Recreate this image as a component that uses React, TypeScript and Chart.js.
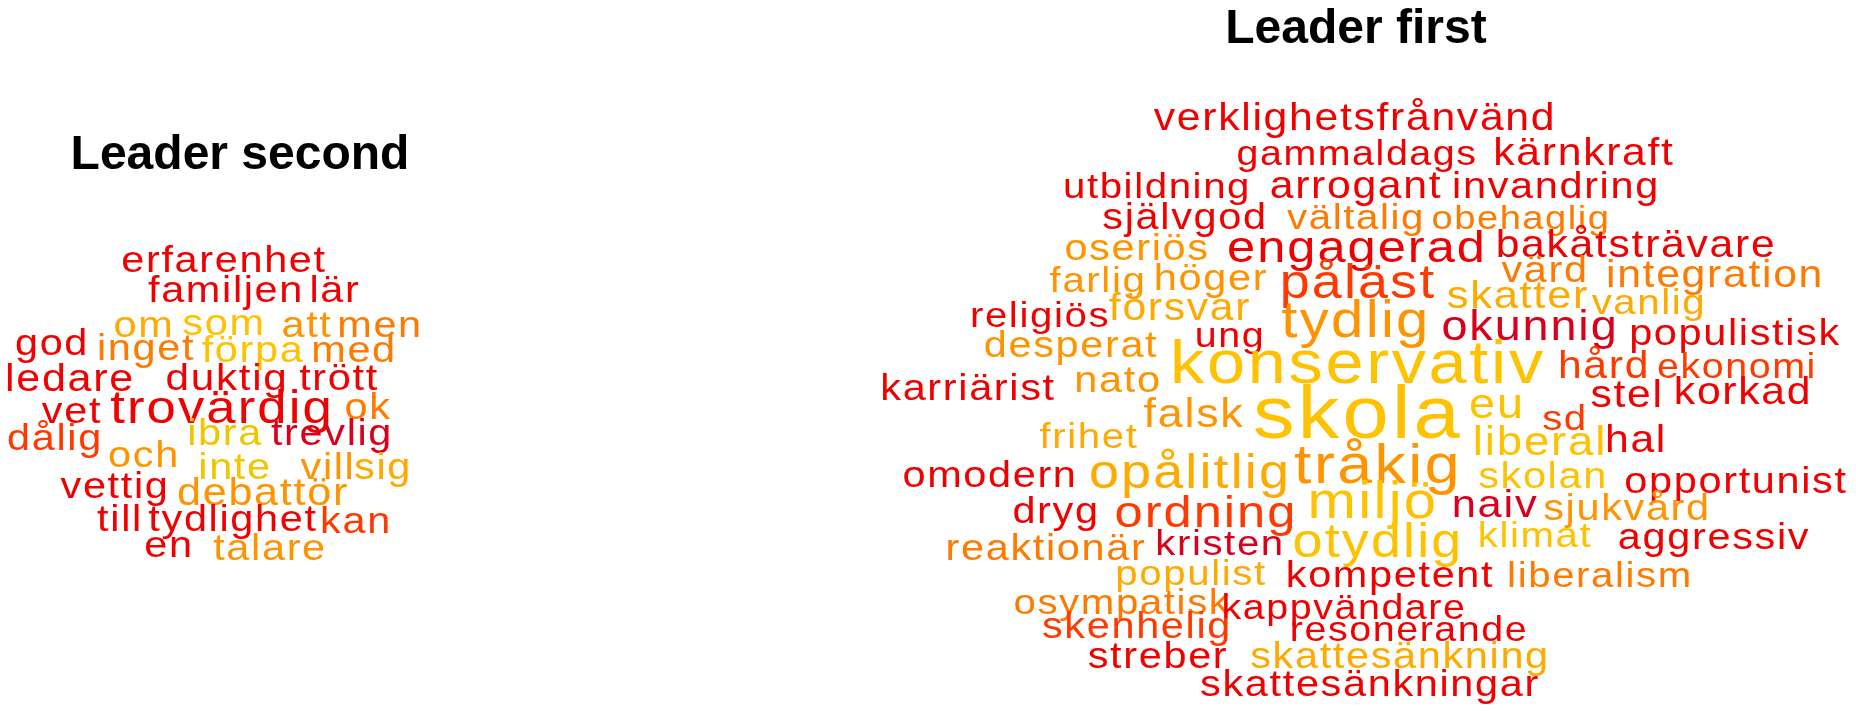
import { useEffect, useRef } from 'react';
import { Chart, registerables } from 'chart.js';

Chart.register(...registerables);

// Titles of the two clouds
const titles = ['Leader second', 'Leader first'];
const titleX = [240, 1356];
const titleY = [169, 43];

// Cloud "Leader second"
const leftWords = [
  'erfarenhet', 'familjen', 'lär', 'om', 'som', 'att', 'men', 'god', 'inget', 'förpa', 'med',
  'ledare', 'duktig', 'trött', 'trovärdig', 'ok', 'vet', 'dålig', 'och', 'ibra', 'trevlig',
  'inte', 'vill', 'sig', 'vettig', 'debattör', 'till', 'tydlighet', 'kan', 'en', 'talare',
];
const leftX = [
  224, 226, 335, 144, 224, 307, 380, 52, 146, 253, 354,
  70, 227, 339, 222, 368, 72, 55, 144, 225, 332,
  235, 328, 383, 115, 263, 120, 233, 356, 169, 270,
];
const leftY = [
  272, 302, 302, 337, 335, 337, 337, 355, 360, 362, 362,
  391, 390, 390, 423, 419, 423, 450, 467, 445, 445,
  479, 479, 479, 498, 505, 531, 531, 533, 557, 560,
];
const leftWeight = [
  1, 1, 1, 1, 1, 1, 1, 1, 1, 1, 1,
  1.04, 1.02, 1, 1.27, 1, 1, 1, 1, 1, 1,
  1, 1, 1, 1, 1.04, 1, 1, 1, 1, 1,
];
const leftTone = [
  0, 0, 0, 5, 6, 4, 3, 0, 3, 6, 3,
  0, 0, 0, 0, 3, 0, 2, 4, 7, 1,
  7, 4, 5, 0, 4, 0, 0, 2, 0, 4,
];

// Cloud "Leader first"
const rightWords = [
  'verklighetsfrånvänd', 'gammaldags', 'kärnkraft', 'utbildning', 'arrogant', 'invandring',
  'självgod', 'vältalig', 'obehaglig', 'oseriös', 'engagerad', 'bakåtsträvare',
  'farlig', 'höger', 'påläst', 'värd', 'integration', 'skatter', 'vanlig', 'försvar',
  'tydlig', 'religiös', 'okunnig', 'populistisk', 'ung', 'desperat', 'konservativ',
  'hård', 'ekonomi', 'karriärist', 'nato', 'stel', 'korkad', 'falsk', 'skola', 'eu', 'sd',
  'frihet', 'liberal', 'hal', 'tråkig', 'omodern', 'opålitlig', 'skolan', 'opportunist',
  'dryg', 'ordning', 'miljö', 'naiv', 'sjukvård', 'reaktionär', 'kristen', 'otydlig',
  'klimat', 'aggressiv', 'populist', 'kompetent', 'liberalism', 'osympatisk', 'kappvändare',
  'skenhelig', 'resonerande', 'streber', 'skattesänkning', 'skattesänkningar',
];
const rightX = [
  1355, 1357, 1584, 1157, 1356, 1556,
  1185, 1356, 1521, 1137, 1357, 1636,
  1098, 1211, 1358, 1545, 1715, 1518, 1649, 1180,
  1356, 1040, 1530, 1735, 1230, 1071, 1358,
  1604, 1737, 968, 1118, 1627, 1743, 1194, 1358, 1497, 1565,
  1089, 1540, 1636, 1378, 990, 1190, 1543, 1736,
  1056, 1206, 1373, 1495, 1627, 1046, 1220, 1378,
  1535, 1714, 1191, 1390, 1600, 1122, 1344,
  1137, 1409, 1158, 1400, 1370,
];
const rightY = [
  130, 165, 165, 198, 198, 198,
  229, 229, 229, 260, 262, 257,
  292, 290, 298, 282, 287, 308, 314, 320,
  337, 327, 340, 345, 347, 357, 383,
  378, 378, 400, 392, 407, 404, 427, 438, 418, 430,
  448, 455, 452, 483, 487, 488, 488, 493,
  523, 527, 518, 517, 520, 560, 555, 557,
  547, 549, 585, 587, 587, 614, 619,
  638, 641, 668, 668, 696,
];
const rightWeight = [
  1.03, 0.95, 1.03, 0.97, 1.03, 1,
  1, 0.97, 0.92, 1, 1.22, 1.03,
  0.97, 1, 1.3, 1, 1.03, 1.05, 0.97, 1.03,
  1.4, 0.97, 1.13, 1, 0.95, 1, 1.65,
  1.03, 0.95, 1, 1, 1.03, 1.03, 1.08, 2.0, 1.13, 0.97,
  0.97, 1.1, 1.03, 1.51, 1, 1.3, 1, 1,
  1, 1.22, 1.4, 1.05, 1, 1, 0.97, 1.3,
  0.97, 1, 0.97, 1, 0.97, 0.97, 0.95,
  1, 0.95, 1, 1, 1,
];
const rightTone = [
  0, 0, 0, 0, 0, 0,
  0, 3, 3, 4, 0, 0,
  4, 4, 2, 3, 3, 5, 5, 5,
  4, 0, 1, 0, 0, 4, 6,
  2, 2, 0, 4, 0, 0, 4, 6, 6, 2,
  5, 6, 0, 4, 0, 5, 6, 0,
  0, 2, 6, 1, 4, 3, 1, 6,
  6, 0, 5, 0, 3, 3, 0,
  2, 0, 0, 5, 0,
];

const palette = ['#F00000', '#D8001A', '#FF3A00', '#FF7A00', '#FF9400', '#FFAA00', '#FFC200', '#F0C600'];
const BASE_FONT = 37;
const FONT = '"Liberation Sans", Arial, Helvetica, sans-serif';

const toPoints = (xs: number[], ys: number[]) => xs.map((x, i) => ({ x, y: ys[i] }));

const wordPlugin = {
  id: 'wordCloudText',
  afterDatasetsDraw(chart: any) {
    const ctx: CanvasRenderingContext2D = chart.ctx;
    const xs = chart.scales.x;
    const unit = Math.abs(xs.getPixelForValue(1000) - xs.getPixelForValue(0)) / 1000;
    chart.data.datasets.forEach((ds: any, di: number) => {
      const meta = chart.getDatasetMeta(di);
      meta.data.forEach((pt: any, i: number) => {
        const text = ds.words[i];
        ctx.save();
        ctx.textAlign = 'center';
        ctx.textBaseline = 'alphabetic';
        if (ds.isTitle) {
          const fs = 48 * unit;
          ctx.font = `bold ${fs}px ${FONT}`;
          ctx.fillStyle = '#000000';
          ctx.fillText(text, pt.x, pt.y);
        } else {
          const fs = BASE_FONT * ds.weights[i] * unit;
          ctx.font = `${fs}px ${FONT}`;
          ctx.fillStyle = palette[ds.tones[i]];
          (ctx as any).letterSpacing = `${(0.04 * fs).toFixed(2)}px`;
          ctx.translate(pt.x, pt.y);
          ctx.scale(1.12, 1);
          ctx.fillText(text, 0, 0);
        }
        ctx.restore();
      });
    });
  },
};

export default function App() {
  const canvasRef = useRef<HTMLCanvasElement | null>(null);

  useEffect(() => {
    document.body.style.margin = '0';
    const canvas = canvasRef.current;
    if (!canvas) return;
    const chart = new Chart(canvas, {
      type: 'scatter',
      data: {
        datasets: [
          {
            label: 'titles',
            data: toPoints(titleX, titleY),
            words: titles,
            isTitle: true,
            pointRadius: 0,
          } as any,
          {
            label: 'Leader second',
            data: toPoints(leftX, leftY),
            words: leftWords,
            weights: leftWeight,
            tones: leftTone,
            pointRadius: 0,
          } as any,
          {
            label: 'Leader first',
            data: toPoints(rightX, rightY),
            words: rightWords,
            weights: rightWeight,
            tones: rightTone,
            pointRadius: 0,
          } as any,
        ],
      },
      options: {
        animation: false,
        responsive: true,
        maintainAspectRatio: false,
        layout: { padding: 0 },
        events: [],
        plugins: {
          legend: { display: false },
          tooltip: { enabled: false },
          title: { display: false },
        },
        scales: {
          x: { type: 'linear', min: 0, max: 1856, display: false },
          y: { type: 'linear', min: 0, max: 711, reverse: true, display: false },
        },
      },
      plugins: [wordPlugin],
    });
    return () => chart.destroy();
  }, []);

  return (
    <div style={{ width: '1856px', height: '711px', position: 'relative', background: '#ffffff' }}>
      <canvas ref={canvasRef} />
    </div>
  );
}
